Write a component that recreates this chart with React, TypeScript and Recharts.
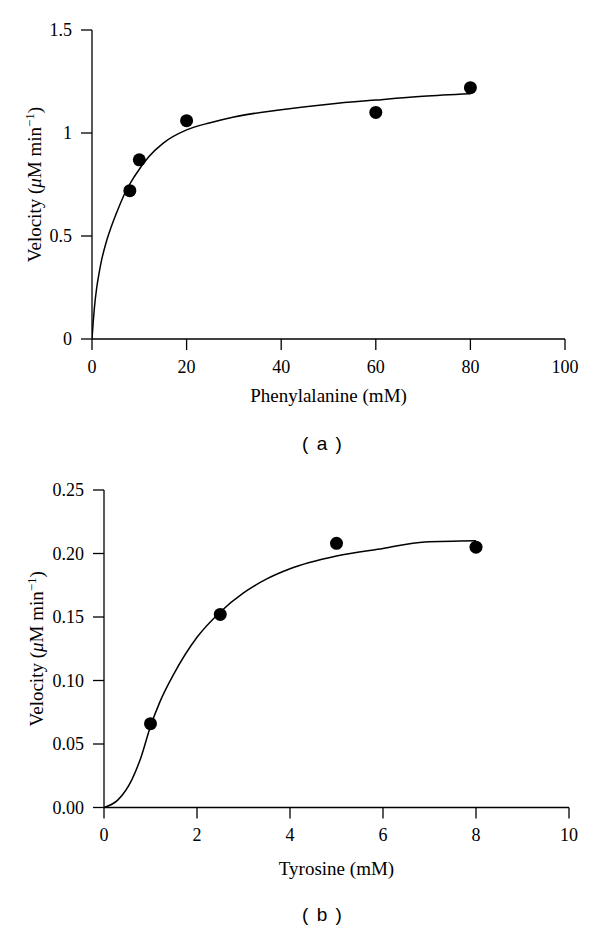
import React from "react";
import { ComposedChart, Line, Scatter, XAxis, YAxis } from "recharts";

// Panel (a): Phenylalanine
const pheMeasuredX = [8, 10, 20, 60, 80];
const pheMeasuredY = [0.72, 0.87, 1.06, 1.1, 1.22];
const pheFitX = [0, 0.25, 0.5, 1, 1.5, 2, 3, 4, 5.5, 7, 9, 12, 15, 20, 25, 30, 40, 50, 60, 70, 80];
const pheFitY = [0, 0.08, 0.15, 0.25, 0.32, 0.38, 0.47, 0.54, 0.63, 0.71, 0.79, 0.885, 0.95, 1.015, 1.05, 1.078, 1.113, 1.14, 1.16, 1.178, 1.19];
const pheXTicks = [0, 20, 40, 60, 80, 100];
const pheYTicks = [0, 0.5, 1, 1.5];

// Panel (b): Tyrosine
const tyrMeasuredX = [1, 2.5, 5, 8];
const tyrMeasuredY = [0.066, 0.152, 0.208, 0.205];
const tyrFitX = [0, 0.3, 0.6, 0.8, 1.0, 1.2, 1.5, 2.0, 2.5, 3.0, 3.5, 4.0, 5.0, 6.0, 6.9, 8.0];
const tyrFitY = [0, 0.006, 0.022, 0.04, 0.064, 0.083, 0.105, 0.134, 0.154, 0.169, 0.18, 0.188, 0.198, 0.204, 0.209, 0.21];
const tyrXTicks = [0, 2, 4, 6, 8, 10];
const tyrYTicks = [0, 0.05, 0.1, 0.15, 0.2, 0.25];

const pheMeasured = pheMeasuredX.map((x, i) => ({ x, y: pheMeasuredY[i] }));
const pheFit = pheFitX.map((x, i) => ({ x, y: pheFitY[i] }));
const tyrMeasured = tyrMeasuredX.map((x, i) => ({ x, y: tyrMeasuredY[i] }));
const tyrFit = tyrFitX.map((x, i) => ({ x, y: tyrFitY[i] }));

const SERIF = "'Liberation Serif', 'Times New Roman', serif";
const SANS = "'Liberation Sans', Arial, sans-serif";

const tickStyle = { fill: "#000", fontFamily: SERIF, fontSize: 18 };

const Dot = (props: any) => {
  const { cx, cy } = props;
  if (cx == null || cy == null) return null;
  return <circle cx={cx} cy={cy} r={6.5} fill="#000" />;
};

const makeYTitle = (dx: number) => (props: any) => {
  const vb = props.viewBox || {};
  const x = (vb.x ?? 0) + dx;
  const cy = (vb.y ?? 0) + (vb.height ?? 0) / 2;
  return (
    <text
      x={x}
      y={cy}
      transform={`rotate(-90, ${x}, ${cy})`}
      textAnchor="middle"
      fontFamily={SERIF}
      fontSize={19}
      fill="#000"
    >
      Velocity (<tspan fontStyle="italic">μ</tspan>M min
      <tspan dy={-7} fontSize={13}>−1</tspan>
      <tspan dy={7}>)</tspan>
    </text>
  );
};

const makeXTitle = (text: string, dy: number) => (props: any) => {
  const vb = props.viewBox || {};
  const x = (vb.x ?? 0) + (vb.width ?? 0) / 2;
  const y = (vb.y ?? 0) + dy;
  return (
    <text x={x} y={y} textAnchor="middle" fontFamily={SERIF} fontSize={19} fill="#000">
      {text}
    </text>
  );
};

const axisCommon = {
  stroke: "#000",
  axisLine: { stroke: "#000", strokeWidth: 1.3 },
  tickLine: { stroke: "#000", strokeWidth: 1.3 },
  tickSize: 11,
  tick: tickStyle,
};

export default function App() {
  return (
    <div
      style={{
        position: "absolute",
        left: 0,
        top: 0,
        width: 600,
        height: 930,
        background: "#fff",
      }}
    >
      <div style={{ position: "absolute", left: 0, top: 0 }}>
        <ComposedChart width={600} height={460} margin={{ top: 30, right: 35, bottom: 0, left: 0 }}>
          <XAxis
            {...axisCommon}
            dataKey="x"
            type="number"
            domain={[0, 100]}
            ticks={pheXTicks}
            allowDataOverflow
            height={121}
            tickMargin={10}
            label={makeXTitle("Phenylalanine (mM)", 63)}
          />
          <YAxis
            {...axisCommon}
            dataKey="y"
            type="number"
            domain={[0, 1.5]}
            ticks={pheYTicks}
            allowDataOverflow
            width={92}
            tickMargin={9}
            label={makeYTitle(41)}
          />
          <Line
            data={pheFit}
            dataKey="y"
            type="monotone"
            stroke="#000"
            strokeWidth={1.5}
            dot={false}
            activeDot={false}
            isAnimationActive={false}
          />
          <Scatter data={pheMeasured} dataKey="y" fill="#000" shape={<Dot />} isAnimationActive={false} />
        </ComposedChart>
      </div>
      <div
        style={{
          position: "absolute",
          left: 272,
          width: 100,
          top: 434,
          lineHeight: "20px",
          textAlign: "center",
          fontFamily: SANS,
          fontSize: 19,
          wordSpacing: 3,
          color: "#000",
        }}
      >
        ( a )
      </div>
      <div style={{ position: "absolute", left: 0, top: 460 }}>
        <ComposedChart width={600} height={470} margin={{ top: 30, right: 31, bottom: 0, left: 0 }}>
          <XAxis
            {...axisCommon}
            dataKey="x"
            type="number"
            domain={[0, 10]}
            ticks={tyrXTicks}
            allowDataOverflow
            height={122.5}
            tickMargin={10}
            label={makeXTitle("Tyrosine (mM)", 67)}
          />
          <YAxis
            {...axisCommon}
            dataKey="y"
            type="number"
            domain={[0, 0.25]}
            ticks={tyrYTicks}
            tickFormatter={(v: number) => v.toFixed(2)}
            allowDataOverflow
            width={104}
            tickMargin={9}
            label={makeYTitle(43)}
          />
          <Line
            data={tyrFit}
            dataKey="y"
            type="monotone"
            stroke="#000"
            strokeWidth={1.5}
            dot={false}
            activeDot={false}
            isAnimationActive={false}
          />
          <Scatter data={tyrMeasured} dataKey="y" fill="#000" shape={<Dot />} isAnimationActive={false} />
        </ComposedChart>
      </div>
      <div
        style={{
          position: "absolute",
          left: 272,
          width: 100,
          top: 905,
          lineHeight: "20px",
          textAlign: "center",
          fontFamily: SANS,
          fontSize: 19,
          wordSpacing: 3,
          color: "#000",
        }}
      >
        ( b )
      </div>
    </div>
  );
}
